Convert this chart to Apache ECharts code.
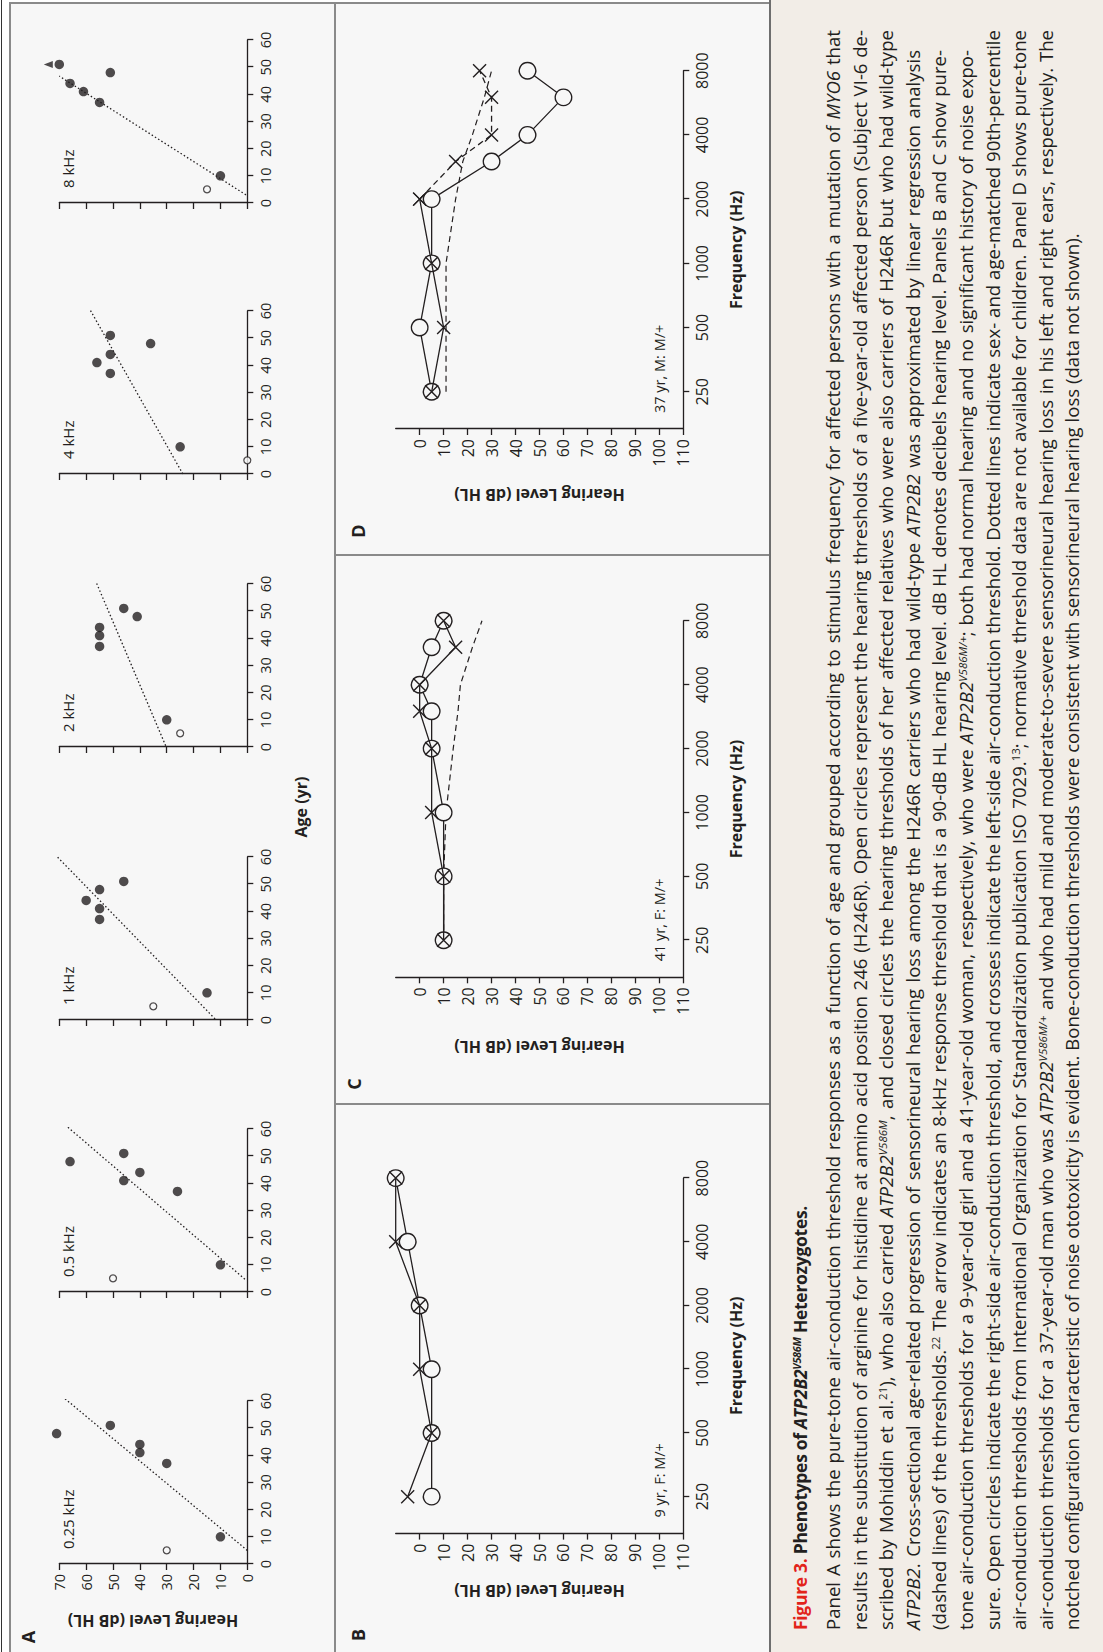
<!DOCTYPE html>
<html>
<head>
<meta charset="utf-8">
<script src="https://cdn.jsdelivr.net/npm/echarts@6/dist/echarts.min.js"></script>
<style>
html,body{margin:0;padding:0;background:#fff;overflow:hidden;width:1103px;height:1652px;}
#rot{position:absolute;left:0;top:0;width:1652px;height:1103px;transform-origin:0 0;transform:translate(0,1652px) rotate(-90deg);background:#fff;font-family:"Open Sans","Noto Sans",sans-serif;color:#231f20;}
.box{position:absolute;box-sizing:border-box;}
#chart{position:absolute;left:0;top:0;width:1652px;height:770px;}
#cap{position:absolute;left:22px;top:787px;width:1600px;font-size:18.6px;line-height:26.6px;}
#cap .ln{white-space:nowrap;text-align:justify;text-align-last:justify;}
#cap .ln.short{width:1580px;}
#cap .ln.last{text-align-last:left;}
#cap .ttl{font-size:17.5px;letter-spacing:-0.3px;margin-bottom:6.4px;}
#cap sup{font-size:0.62em;line-height:0;vertical-align:0.55em;}
#cap .red{color:#e2231a;}
</style>
</head>
<body>
<div id="rot">
  <div class="box" style="left:0;top:1px;width:1652px;height:1px;background:#333;"></div>
  <div class="box" style="left:0;top:9px;width:1650px;height:326px;background:#f7f7f7;border-top:2px solid #8a8a8a;border-right:2px solid #8a8a8a;"></div>
  <div class="box" style="left:0;top:334px;width:1650px;height:436px;background:#f7f7f7;border-top:2px solid #8a8a8a;border-right:2px solid #8a8a8a;"></div>
  <div class="box" style="left:547px;top:334px;width:2px;height:436px;background:#8a8a8a;"></div>
  <div class="box" style="left:1096px;top:334px;width:2px;height:436px;background:#8a8a8a;"></div>
  <div class="box" style="left:0;top:769px;width:1652px;height:334px;background:#f2ede7;border-top:2px solid #6e6e6e;"></div>
  <div id="chart"></div>
  <div id="cap">
    <div class="ln last ttl"><b><span class="red">Figure 3.</span> Phenotypes of <i>ATP2B2</i><sup><i>V586M</i></sup> Heterozygotes.</b></div>
    <div class="ln">Panel A shows the pure-tone air-conduction threshold responses as a function of age and grouped according to stimulus frequency for affected persons with a mutation of <i>MYO6</i> that</div>
    <div class="ln">results in the substitution of arginine for histidine at amino acid position 246 (H246R). Open circles represent the hearing thresholds of a five-year-old affected person (Subject VI-6 de-</div>
    <div class="ln">scribed by Mohiddin et al.<sup>21</sup>), who also carried <i>ATP2B2</i><sup><i>V586M</i></sup>, and closed circles the hearing thresholds of her affected relatives who were also carriers of H246R but who had wild-type</div>
    <div class="ln short"><i>ATP2B2</i>. Cross-sectional age-related progression of sensorineural hearing loss among the H246R carriers who had wild-type <i>ATP2B2</i> was approximated by linear regression analysis</div>
    <div class="ln short">(dashed lines) of the thresholds.<sup>22</sup> The arrow indicates an 8-kHz response threshold that is a 90-dB HL hearing level. dB HL denotes decibels hearing level. Panels B and C show pure-</div>
    <div class="ln short">tone air-conduction thresholds for a 9-year-old girl and a 41-year-old woman, respectively, who were <i>ATP2B2</i><sup><i>V586M/+</i></sup>; both had normal hearing and no significant history of noise expo-</div>
    <div class="ln">sure. Open circles indicate the right-side air-conduction threshold, and crosses indicate the left-side air-conduction threshold. Dotted lines indicate sex- and age-matched 90th-percentile</div>
    <div class="ln">air-conduction thresholds from International Organization for Standardization publication ISO 7029.<sup>13</sup>; normative threshold data are not available for children. Panel D shows pure-tone</div>
    <div class="ln">air-conduction thresholds for a 37-year-old man who was <i>ATP2B2</i><sup><i>V586M/+</i></sup> and who had mild and moderate-to-severe sensorineural hearing loss in his left and right ears, respectively. The</div>
    <div class="ln last">notched configuration characteristic of noise ototoxicity is evident. Bone-conduction thresholds were consistent with sensorineural hearing loss (data not shown).</div>
  </div>
</div>
<script>
// ---------------- DATA ----------------
// Panel A: ages of the subjects (index 0 = open circle, 5-year-old who also carried ATP2B2 V586M)
const subjectAges = [5, 10, 37, 41, 44, 48, 51];
const freqLabelsA = ['0.25 kHz', '0.5 kHz', '1 kHz', '2 kHz', '4 kHz', '8 kHz'];
const hl250 = [30, 10, 30, 40, 40, 71, 51];
const hl500 = [50, 10, 26, 46, 40, 66, 46];
const hl1k  = [35, 15, 55, 55, 60, 55, 46];
const hl2k  = [25, 30, 55, 55, 55, 41, 46];
const hl4k  = [0, 25, 51, 56, 51, 36, 51];
const hl8k  = [15, 10, 55, 61, 66, 51, 70];
// age of the subject whose 8-kHz threshold carries the arrow (90 dB HL)
const arrowAges8k = [51];
// regression (dotted) lines: [age, dB HL] end points
const fit250 = [[5, 0], [63, 70.5]];
const fit500 = [[4.7, 0.9], [64.4, 71.2]];
const fit1k  = [[0.4, 12], [60, 70.7]];
const fit2k  = [[0.5, 30.4], [67, 59]];
const fit4k  = [[0, 24], [70, 64]];
const fit8k  = [[3, 0.5], [46.7, 70]];
const ageTicksMax = 60, hlTicksMaxA = 70;

// Panels B-D: audiograms
const freqTicks = [250, 500, 1000, 2000, 4000, 8000];
const hlTicks = [0, 10, 20, 30, 40, 50, 60, 70, 80, 90, 100, 110];
const freqsB = [250, 500, 1000, 2000, 4000, 8000];
const rightB = [5, 5, 5, 0, -5, -10];
const leftB  = [-5, 5, 0, 0, -10, -10];
const freqsCD = [250, 500, 1000, 2000, 3000, 4000, 6000, 8000];
const rightC = [10, 10, 10, 5, 5, 0, 5, 10];
const leftC  = [10, 10, 5, 5, 0, 0, 15, 10];
const normC  = [10, 10, 11, 14, 16, 17, 22, 26];
const rightD = [5, 0, 5, 5, 30, 45, 60, 45];
const leftD  = [5, 10, 5, 0, 15, 30, 30, 25];
const normD  = [11, 11, 11, 15, 18, 22, 27, 30];
const notes = ['9 yr, F: M/+', '41 yr, F: M/+', '37 yr, M: M/+'];

// ---------------- STYLE / LAYOUT ----------------
const INK = '#231f20', PANEL = '#f7f7f7';
const FONT = '"Open Sans", "Noto Sans", sans-serif';
const gridLeftA = [88, 360, 632, 905, 1178, 1449];
const gridTopA = 59.3, gridHA = 188, gridWA = 163;
const gridLeftBCD = [118.4, 674.7, 1223];
const gridWBCD = [355.5, 356.5, 358.3];
const gridTopBCD = 395.7, gridHBCD = 287.6;
const hlLabelX = [61, 605, 1157];
const X_SYMBOL = 'path://M0,0L12,12M12,0L0,12';

const grids = [], xAxes = [], yAxes = [], series = [], graphics = [];
const axisLineStyle = {color: INK, width: 1.3};

// ----- Panel A -----
const hlSetsA = [hl250, hl500, hl1k, hl2k, hl4k, hl8k];
const fitSetsA = [fit250, fit500, fit1k, fit2k, fit4k, fit8k];
hlSetsA.forEach((hl, i) => {
  grids.push({left: gridLeftA[i], top: gridTopA, width: gridWA, height: gridHA});
  xAxes.push({
    gridIndex: i, type: 'value', min: 0, max: ageTicksMax, interval: 10,
    axisLine: {show: true, onZero: false, lineStyle: axisLineStyle},
    axisTick: {show: true, length: 6, lineStyle: axisLineStyle},
    axisLabel: {color: INK, fontSize: 14.5, fontFamily: FONT, margin: 11},
    splitLine: {show: false}
  });
  yAxes.push({
    gridIndex: i, type: 'value', min: 0, max: hlTicksMaxA, interval: 10,
    axisLine: {show: true, onZero: false, lineStyle: axisLineStyle},
    axisTick: {show: true, length: 6, lineStyle: axisLineStyle},
    axisLabel: {show: i === 0, color: INK, fontSize: 14.5, fontFamily: FONT, margin: 10},
    splitLine: {show: false}
  });
  series.push({
    type: 'line', xAxisIndex: i, yAxisIndex: i, data: fitSetsA[i], symbol: 'none',
    lineStyle: {color: INK, width: 1.3, type: [1.5, 2.3]}, clip: false, silent: true, z: 1
  });
  series.push({
    type: 'scatter', xAxisIndex: i, yAxisIndex: i,
    data: subjectAges.slice(1).map((a, k) => [a, hl[k + 1]]),
    symbol: 'circle', symbolSize: 9.5, itemStyle: {color: INK}, clip: false, silent: true, z: 3
  });
  series.push({
    type: 'scatter', xAxisIndex: i, yAxisIndex: i,
    data: [[subjectAges[0], hl[0]]],
    symbol: 'circle', symbolSize: 7, itemStyle: {color: PANEL, borderColor: INK, borderWidth: 1.3},
    clip: false, silent: true, z: 3
  });
  graphics.push({type: 'text', x: gridLeftA[i] + 15, y: 67.5,
    style: {text: freqLabelsA[i], font: '15px ' + FONT, fill: INK, align: 'left', verticalAlign: 'middle'}});
});
// arrow on 8 kHz
series.push({
  type: 'scatter', xAxisIndex: 5, yAxisIndex: 5,
  data: arrowAges8k.map(a => [a, hl8k[subjectAges.indexOf(a)]]),
  symbol: 'triangle', symbolSize: [7, 9], symbolOffset: [0, -11],
  itemStyle: {color: INK}, clip: false, silent: true, z: 3
});
graphics.push({type: 'text', x: 31, y: 153, rotation: Math.PI / 2,
  style: {text: 'Hearing Level (dB HL)', font: 'bold 16px ' + FONT, fill: INK, align: 'center', verticalAlign: 'middle'}});
graphics.push({type: 'text', x: 845, y: 301,
  style: {text: 'Age (yr)', font: 'bold 16px ' + FONT, fill: INK, align: 'center', verticalAlign: 'middle'}});

// ----- Panels B, C, D -----
const octMin = Math.log2(freqTicks[0]) - 0.58;
const octMax = Math.log2(freqTicks[freqTicks.length - 1]);
const tickOct = freqTicks.map(f => Math.log2(f));
const toPts = (fs, vals) => fs.map((f, k) => [Math.log2(f), vals[k]]);

const audioPanels = [
  {freqs: freqsB, right: rightB, left: leftB, norm: null, dashFrom: null},
  {freqs: freqsCD, right: rightC, left: leftC, norm: normC, dashFrom: null},
  {freqs: freqsCD, right: rightD, left: leftD, norm: normD, dashFrom: 3}
];
audioPanels.forEach((p, j) => {
  const gi = 6 + j;
  grids.push({left: gridLeftBCD[j], top: gridTopBCD, width: gridWBCD[j], height: gridHBCD});
  xAxes.push({
    gridIndex: gi, type: 'value', min: octMin, max: octMax,
    axisLine: {show: true, onZero: false, lineStyle: axisLineStyle},
    axisTick: {show: true, length: 6, lineStyle: axisLineStyle, customValues: tickOct},
    axisLabel: {color: INK, fontSize: 16, fontFamily: FONT, margin: 11, customValues: tickOct,
      formatter: v => String(Math.round(Math.pow(2, v)))},
    splitLine: {show: false},
    name: 'Frequency (Hz)', nameLocation: 'middle', nameGap: 45,
    nameTextStyle: {color: INK, fontSize: 16, fontWeight: 'bold', fontFamily: FONT}
  });
  yAxes.push({
    gridIndex: gi, type: 'value', inverse: true, min: -10, max: 110, interval: 10,
    axisLine: {show: true, onZero: false, lineStyle: axisLineStyle},
    axisTick: {show: true, length: 6, lineStyle: axisLineStyle, customValues: hlTicks},
    axisLabel: {color: INK, fontSize: 16, fontFamily: FONT, margin: 10, customValues: hlTicks},
    splitLine: {show: false}
  });
  if (p.norm) {
    series.push({
      type: 'line', xAxisIndex: gi, yAxisIndex: gi, data: toPts(p.freqs, p.norm), symbol: 'none',
      lineStyle: {color: INK, width: 1.2, type: [6, 4]}, clip: false, silent: true, z: 1
    });
  }
  series.push({
    type: 'line', xAxisIndex: gi, yAxisIndex: gi, data: toPts(p.freqs, p.right),
    symbol: 'circle', symbolSize: 16.5, showSymbol: true,
    itemStyle: {color: PANEL, borderColor: INK, borderWidth: 1.4},
    lineStyle: {color: INK, width: 1.3}, clip: false, silent: true, z: 2
  });
  const leftPts = toPts(p.freqs, p.left);
  const xStyle = {color: 'none', borderColor: INK, borderWidth: 1.4};
  if (p.dashFrom === null) {
    series.push({
      type: 'line', xAxisIndex: gi, yAxisIndex: gi, data: leftPts,
      symbol: X_SYMBOL, symbolSize: 13, showSymbol: true, itemStyle: xStyle,
      lineStyle: {color: INK, width: 1.3}, clip: false, silent: true, z: 3
    });
  } else {
    series.push({
      type: 'line', xAxisIndex: gi, yAxisIndex: gi, data: leftPts.slice(0, p.dashFrom + 1),
      symbol: X_SYMBOL, symbolSize: 13, showSymbol: true, itemStyle: xStyle,
      lineStyle: {color: INK, width: 1.3}, clip: false, silent: true, z: 3
    });
    series.push({
      type: 'line', xAxisIndex: gi, yAxisIndex: gi, data: leftPts.slice(p.dashFrom),
      symbol: X_SYMBOL, symbolSize: 13, showSymbol: true, itemStyle: xStyle,
      lineStyle: {color: INK, width: 1.3, type: [6, 4]}, clip: false, silent: true, z: 3
    });
  }
  graphics.push({type: 'text', x: gridLeftBCD[j] + 16, y: 659.5,
    style: {text: notes[j], font: '14.5px ' + FONT, fill: INK, align: 'left', verticalAlign: 'middle'}});
  graphics.push({type: 'text', x: hlLabelX[j], y: gridTopBCD + gridHBCD / 2, rotation: Math.PI / 2,
    style: {text: 'Hearing Level (dB HL)', font: 'bold 16px ' + FONT, fill: INK, align: 'center', verticalAlign: 'middle'}});
});

// panel letters
[['A', 15, 28], ['B', 17, 358], ['C', 568, 354], ['D', 1121, 358]].forEach(([t, x, y]) => {
  graphics.push({type: 'text', x: x, y: y,
    style: {text: t, font: 'bold 18px ' + FONT, fill: INK, align: 'center', verticalAlign: 'middle'}});
});

const chart = echarts.init(document.getElementById('chart'), null, {renderer: 'svg', width: 1652, height: 770});
chart.setOption({
  backgroundColor: 'transparent',
  animation: false,
  textStyle: {fontFamily: FONT},
  grid: grids,
  xAxis: xAxes,
  yAxis: yAxes,
  series: series,
  graphic: graphics
});
</script>
</body>
</html>
